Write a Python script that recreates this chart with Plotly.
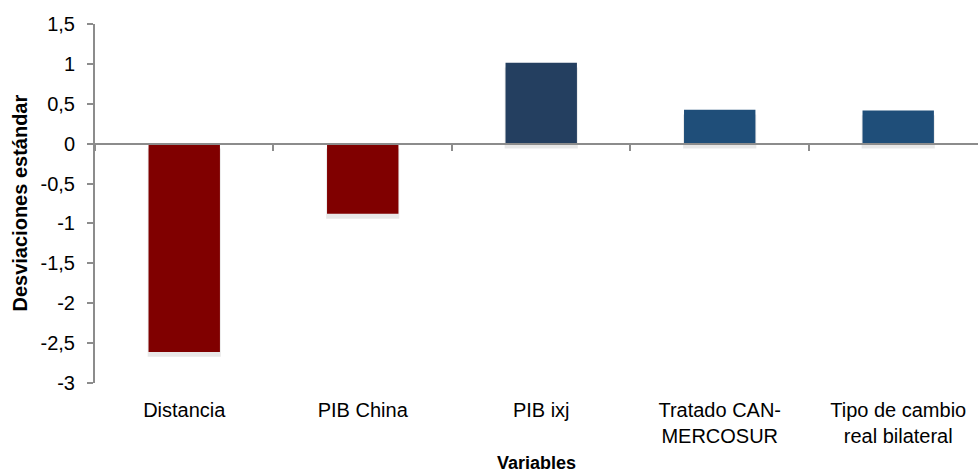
import plotly.graph_objects as go

categories = ["Distancia", "PIB China", "PIB ixj", "Tratado CAN-<br>MERCOSUR", "Tipo de cambio<br>real bilateral"]
values = [-2.61, -0.88, 1.015, 0.425, 0.415]
bar_colors = ["#800000", "#800000", "#243F60", "#1F4E79", "#1F4E79"]
y_tickvals = [1.5, 1, 0.5, 0, -0.5, -1, -1.5, -2, -2.5, -3]
y_ticktext = ["1,5", "1", "0,5", "0", "-0,5", "-1", "-1,5", "-2", "-2,5", "-3"]
y_title = "Desviaciones estándar"
x_title = "Variables"

FONT = "Liberation Sans, Arial, sans-serif"
AXIS_GREY = "#8C8C8C"

xpos = list(range(len(categories)))
boundaries = [i - 0.5 for i in xpos]

fig = go.Figure()
# soft shadow under each bar
fig.add_trace(go.Bar(
    x=xpos, y=values, base=[-0.06] * len(values), width=0.41,
    marker=dict(color="rgba(0,0,0,0.09)", line=dict(width=0)),
    hoverinfo="skip", showlegend=False,
))
fig.add_trace(go.Bar(
    x=xpos, y=values, width=0.40,
    marker=dict(color=bar_colors, line=dict(width=0)),
    showlegend=False,
))
# dummy trace to activate the x axis drawn at y = 0
fig.add_trace(go.Scatter(x=[None], y=[None], xaxis="x2", showlegend=False))

fig.update_layout(
    width=978, height=473,
    margin=dict(l=95, r=0, t=24, b=90),
    paper_bgcolor="white", plot_bgcolor="white",
    barmode="overlay",
    font=dict(family=FONT, size=20, color="black"),
    xaxis=dict(
        range=[-0.5, 4.447], tickmode="array", tickvals=xpos, ticktext=categories,
        showline=False, showgrid=False, zeroline=False, ticks="",
        ticklabelstandoff=13, tickfont=dict(family=FONT, size=20, color="black"),
        fixedrange=True,
    ),
    xaxis2=dict(
        range=[-0.5, 4.447], overlaying="x", anchor="free", position=3 / 4.5,
        tickmode="array", tickvals=boundaries, showticklabels=False,
        showline=True, linecolor=AXIS_GREY, linewidth=2,
        ticks="outside", ticklen=6, tickwidth=2, tickcolor=AXIS_GREY,
        showgrid=False, zeroline=False,
    ),
    yaxis=dict(
        range=[-3, 1.5], tickmode="array", tickvals=y_tickvals, ticktext=y_ticktext,
        showline=True, linecolor=AXIS_GREY, linewidth=2,
        ticks="outside", ticklen=6, tickwidth=2, tickcolor=AXIS_GREY,
        showgrid=False, zeroline=False, ticklabelstandoff=8,
        tickfont=dict(family=FONT, size=20, color="black"),
    ),
    annotations=[
        dict(text=y_title, xref="paper", yref="paper", x=-(95 - 19) / 883, y=0.5,
             xanchor="center", yanchor="middle", textangle=-90, showarrow=False,
             font=dict(family=FONT, size=20, color="black", weight="bold")),
        dict(text=x_title, xref="paper", yref="paper", x=0.5, y=-(463 - 383) / 359,
             xanchor="center", yanchor="middle", showarrow=False,
             font=dict(family=FONT, size=18, color="black", weight="bold")),
    ],
)

fig.write_html("out.html")
